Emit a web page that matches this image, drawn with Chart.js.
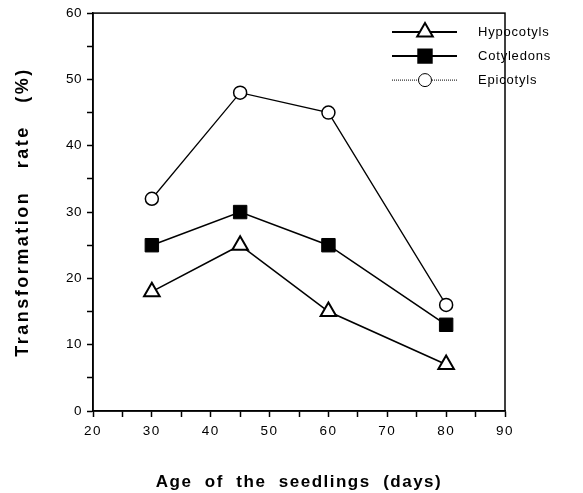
<!DOCTYPE html>
<html>
<head>
<meta charset="utf-8">
<script src="https://cdn.jsdelivr.net/npm/chart.js@4.4.0/dist/chart.umd.min.js"></script>
<style>
  html, body { margin: 0; padding: 0; background: #fff; }
</style>
</head>
<body>
<canvas id="chart" width="583" height="493"></canvas>
<script>
// data
const ages = [30, 45, 60, 80];
const hypocotyls = [18, 25, 15, 7];
const cotyledons = [25, 30, 25, 13];
const epicotyls = [32, 48, 45, 16];
const seriesNames = ['Hypocotyls', 'Cotyledons', 'Epicotyls'];
const xTickLabels = [20, 30, 40, 50, 60, 70, 80, 90];
const yTickLabels = [0, 10, 20, 30, 40, 50, 60];

const FONT = "'Liberation Sans', Arial, Helvetica, sans-serif";

function toPoints(values) {
    return ages.map((a, i) => ({ x: a, y: values[i] }));
}

// box around the plot area
const framePlugin = {
    id: 'frame',
    afterDraw(chart) {
        const { ctx, chartArea: a } = chart;
        ctx.save();
        ctx.strokeStyle = '#000';
        ctx.lineWidth = 1.5;
        ctx.strokeRect(a.left, a.top, a.right - a.left, a.bottom - a.top);
        ctx.restore();
    }
};

// letter spacing for the typewriter-ish text of the figure
const spacingPlugin = {
    id: 'spacing',
    beforeDraw(chart) {
        const spacing = { x: ['1.5px', '1.5px'], y: ['0.5px', '2.5px'] };
        Object.keys(spacing).forEach(id => {
            const scale = chart.scales[id];
            if (!scale || scale._spaced) return;
            const labels = scale.drawLabels.bind(scale);
            const title = scale.drawTitle.bind(scale);
            scale.drawLabels = function (area) {
                scale.ctx.save();
                scale.ctx.letterSpacing = spacing[id][0];
                labels(area);
                scale.ctx.restore();
            };
            scale.drawTitle = function (area) {
                scale.ctx.save();
                scale.ctx.letterSpacing = spacing[id][1];
                title(area);
                scale.ctx.restore();
            };
            scale._spaced = true;
        });
    }
};

// legend drawn inside the plot, line through marker
const legendPlugin = {
    id: 'insideLegend',
    afterDraw(chart) {
        const { ctx, chartArea: a } = chart;
        const lineStyles = [
            { width: 2, dash: [] },
            { width: 2, dash: [] },
            { width: 1, dash: [1, 1] }
        ];
        ctx.save();
        ctx.font = '13px ' + FONT;
        ctx.letterSpacing = '0.8px';
        ctx.textBaseline = 'middle';
        ctx.fillStyle = '#000';
        chart.data.datasets.forEach((ds, i) => {
            const y = a.top + 19 + i * 24;
            const x1 = a.right - 113, x2 = a.right - 48, xm = a.right - 80;
            ctx.strokeStyle = '#000';
            ctx.lineWidth = lineStyles[i].width;
            ctx.setLineDash(lineStyles[i].dash);
            ctx.beginPath();
            ctx.moveTo(x1, y);
            ctx.lineTo(x2, y);
            ctx.stroke();
            ctx.setLineDash([]);
            ctx.fillStyle = ds.pointBackgroundColor;
            ctx.strokeStyle = ds.pointBorderColor;
            Chart.helpers.drawPoint(ctx, {
                pointStyle: ds.pointStyle,
                radius: ds.pointRadius,
                rotation: 0,
                borderWidth: ds.pointBorderWidth
            }, xm, y);
            ctx.fillStyle = '#000';
            ctx.fillText(ds.label, a.right - 27, y);
        });
        ctx.restore();
    }
};

new Chart(document.getElementById('chart'), {
    type: 'line',
    data: {
        datasets: [
            {
                label: seriesNames[0],
                data: toPoints(hypocotyls),
                borderColor: '#000',
                borderWidth: 1.6,
                pointStyle: 'triangle',
                pointRadius: 9,
                pointBorderWidth: 2,
                pointBackgroundColor: '#fff',
                pointBorderColor: '#000'
            },
            {
                label: seriesNames[1],
                data: toPoints(cotyledons),
                borderColor: '#000',
                borderWidth: 1.6,
                pointStyle: 'rect',
                pointRadius: 9.5,
                pointBorderWidth: 1,
                pointBackgroundColor: '#000',
                pointBorderColor: '#000'
            },
            {
                label: seriesNames[2],
                data: toPoints(epicotyls),
                borderColor: '#000',
                borderWidth: 1.3,
                pointStyle: 'circle',
                pointRadius: 6.5,
                pointBorderWidth: 1.5,
                pointBackgroundColor: '#fff',
                pointBorderColor: '#000'
            }
        ]
    },
    options: {
        responsive: false,
        animation: false,
        events: [],
        layout: { padding: { left: 0, top: 13, right: 78, bottom: 0 } },
        plugins: {
            legend: { display: false },
            tooltip: { enabled: false }
        },
        scales: {
            x: {
                type: 'linear',
                min: 20,
                max: 90,
                afterFit(scale) { scale.height = 82; },
                grid: { drawOnChartArea: false, tickLength: 6, tickColor: '#000', tickWidth: 1.5 },
                border: { display: true, color: '#000', width: 1.5 },
                ticks: {
                    stepSize: 5,
                    autoSkip: false,
                    maxRotation: 0,
                    padding: 6,
                    color: '#000',
                    font: { family: FONT, size: 13.5 },
                    callback: v => xTickLabels.includes(v) ? String(v) : ''
                },
                title: {
                    display: true,
                    text: 'Age  of  the  seedlings  (days)',
                    color: '#000',
                    font: { family: FONT, size: 17, weight: 'bold' },
                    padding: { top: 0, bottom: 0 }
                }
            },
            y: {
                min: 0,
                max: 60,
                afterFit(scale) { scale.width = 93; },
                grid: { drawOnChartArea: false, tickLength: 6, tickColor: '#000', tickWidth: 1.5 },
                border: { display: true, color: '#000', width: 1.5 },
                ticks: {
                    stepSize: 5,
                    autoSkip: false,
                    padding: 5,
                    color: '#000',
                    font: { family: FONT, size: 13.5 },
                    callback: v => yTickLabels.includes(v) ? String(v) : ''
                },
                title: {
                    display: true,
                    text: 'Transformation   rate   (%)',
                    color: '#000',
                    font: { family: FONT, size: 18, weight: 'bold' },
                    padding: { top: 12, bottom: 0 }
                }
            }
        }
    },
    plugins: [spacingPlugin, framePlugin, legendPlugin]
});
</script>
</body>
</html>
